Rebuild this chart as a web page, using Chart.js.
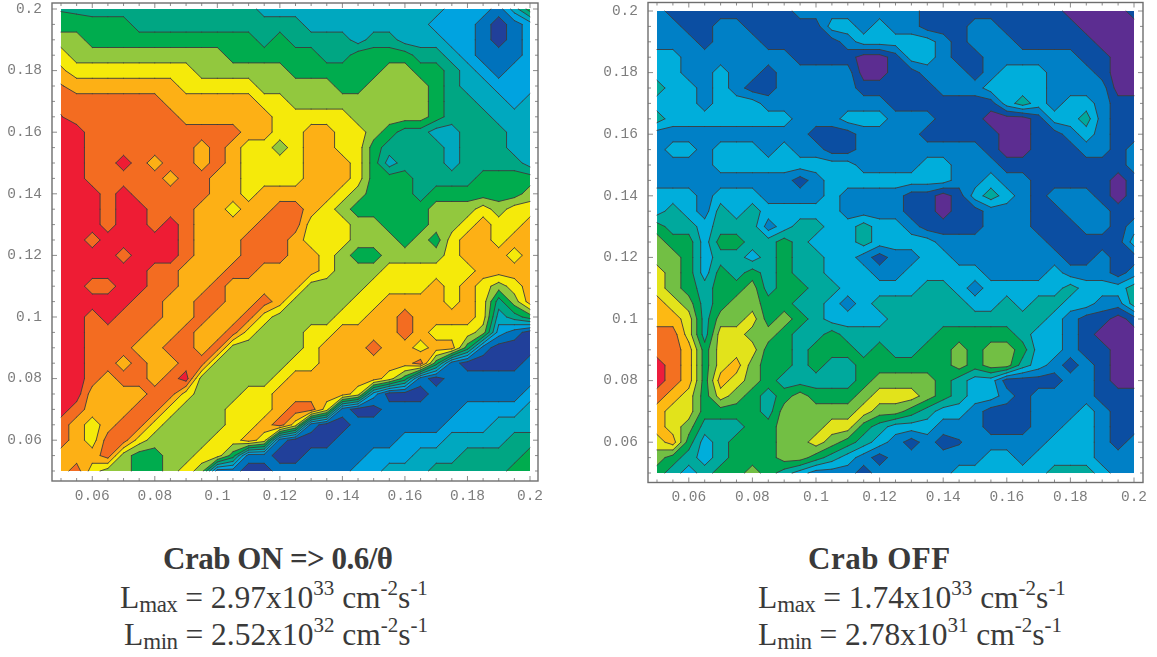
<!DOCTYPE html>
<html>
<head>
<meta charset="utf-8">
<title>Crab ON / OFF luminosity</title>
<script src="https://cdn.jsdelivr.net/npm/chart.js@4"></script>
<style>
  html, body { margin: 0; padding: 0; background: #fff; }
  body { position: relative; width: 1157px; height: 657px; overflow: hidden; }
  .plot { position: absolute; top: 0; height: 520px; }
  .cap { position: absolute; white-space: nowrap; font-family: "Liberation Serif", serif; color: #3a3a3a; line-height: 1; }
  .cap.head { font-weight: bold; font-size: 31px; }
  .cap.lum { font-size: 31.5px; }
  .cap sub { font-size: 23px; vertical-align: baseline; position: relative; top: 4px; line-height: 0; letter-spacing: -0.5px; }
  .cap sup { font-size: 21px; vertical-align: baseline; position: relative; top: -13px; line-height: 0; }
</style>
</head>
<body>
<canvas id="crabOn" class="plot" style="left:0" width="578" height="520"></canvas>
<canvas id="crabOff" class="plot" style="left:578px" width="579" height="520"></canvas>

<div class="cap head" style="left:163px;top:543px;letter-spacing:-0.5px">Crab ON =&gt; 0.6/θ</div>
<div class="cap lum" style="left:120px;top:582px">L<sub>max</sub> = 2.97x10<sup>33</sup> cm<sup>-2</sup>s<sup>-1</sup></div>
<div class="cap lum" style="left:124px;top:619px">L<sub>min</sub> = 2.52x10<sup>32</sup> cm<sup>-2</sup>s<sup>-1</sup></div>
<div class="cap head" style="left:808px;top:543px;letter-spacing:0.5px">Crab OFF</div>
<div class="cap lum" style="left:758px;top:582px">L<sub>max</sub> = 1.74x10<sup>33</sup> cm<sup>-2</sup>s<sup>-1</sup></div>
<div class="cap lum" style="left:758px;top:619px">L<sub>min</sub> = 2.78x10<sup>31</sup> cm<sup>-2</sup>s<sup>-1</sup></div>

<script>
// grid positions of the sampled luminosity map
const gridX = [0.05, 0.055, 0.06, 0.065, 0.07, 0.075, 0.08, 0.085, 0.09, 0.095, 0.1, 0.105, 0.11, 0.115, 0.12, 0.125,
  0.13, 0.135, 0.14, 0.145, 0.15, 0.155, 0.16, 0.165, 0.17, 0.175, 0.18, 0.185, 0.19, 0.195, 0.2];
const gridY = gridX.slice().reverse();

const tickValues = gridX;
const tickLabels = ['0.06', '0.08', '0.1', '0.12', '0.14', '0.16', '0.18', '0.2'];

// contour band of each grid node, rows run from y = 0.2 down to y = 0.05
const crabOnLevels = [
  [4.4,4.25,4,4,4,4,4,4,4,4,4,4,4,3,3,3,3,3,3,3,3,3,3,3,3,2,2,2,1,3,5],
  [5,5,5,5,5,4,4,4,4,4,4,4,4,4,4,4,3,3,3,3,3,3,3,3,2,2,2,1,0,1,2],
  [6,6,5,5,5,5,5,5,5,5,5,5,5,4,5,4,4,4,4,3,4,4,3,3,3,2,2,1,0,1,2],
  [7,6,6,6,6,6,6,6,6,6,6,5,5,5,5,5,5,4,4,5,5,5,5,4,4,3,2,1,1,1,2],
  [7.7,7,7,7,7,7,7,7,7,6,6,6,6,6,6,5,5,5,5,5,5,6,6,5,5,4,3,2,1,2,2],
  [8.6,8,8,8,8,8,8,8,7,7,7,7,7,6,6,6,6,6,5,5,6,6,6,6,5,4,3,3,2,2,2],
  [9.2,9,9,9,9,9,9,8,8,8,8,8,8,7,7,6,6,6,6,6,6,6,6,6,5,4,4,3,3,2,3],
  [9.55,9,9,9,9,9,9,9,8,8,8,8,8,8,7,7,7,7,7,6,6,6,6,6,5,4,4,4,3,3,3],
  [10,10,9,9,9,9,9,9,9,9,9,9,8,8,7,7,8,8,7,7,6,5,4,4,3,3,4,4,4,3,3],
  [10,10,9,9,9,9,9,9,9,8,9,8,7,7,6,7,8,8,7,7,5,4,4,4,4,3,4,4,4,3,3],
  [10,10,9,9,10,9,8,9,9,8,9,8,7,7,7,7,8,8,8,7,5,3,4,4,4,3,4,4,4,4,3],
  [10,10,9,9,9,9,9,8,9,9,8,8,7,7,7,7,8,8,8,7,5,5,5,4,4,4,4,5,5,5,5],
  [10,10,10,9,10,9,9,9,9,9,8,8,7,8,8,8,8,8,7,6,5,5,5,4,5,5,5,5,5,5,6],
  [10,10,10,9,10,10,9,9,9,8,8,7,8,8,9,9,8,7,6,5,5,5,5,5,6,6,6,7,6,7,7],
  [10,10,10,9,10,10,9,10,9,8,8,8,8,9,9,9,7,7,7,6,6,5,5,5,6,6,7,8,7,7,8],
  [10,10,9,10,10,10,10,10,9,8,8,8,9,9,9,8,7,7,7,6,6,6,5,6,5,7,8,8,7,8,8],
  [10,10,10,10,9,10,10,10,9,8,8,8,9,9,9,8,8,7,6,5,5,6,6,6,6,7,8,8,8,7,8],
  [10,10,10,10,10,10,9,9,8,8,8,9,9,8,8,8,8,7,6,6,6,7,7,7,7,7,7,8,8,8,8],
  [10,10,9,9,10,10,9,9,8,8,9,8,8,8,8,8,6,6,6,6,7,7,7,7,8,7,8,7,6,7,8],
  [10,10,10,10,10,9,9,8,8,9,9,8,8,9,8,6,6,6,6,7,7,8,8,8,8,7,8,7,4,6,8],
  [10,10,9,10,9,9,9,8,8,9,8,8,9,7,6,6,6,6,7,7,8,8,9,8,8,8,8,7,3,4,5],
  [10,10,9,9,9,9,8,8,9,8,8,9,7,6,6,6,7,7,8,8,8,8,9,8,7,7,7,6,2,1,0],
  [10,10,9,9,9,8,8,9,9,8,9,6,6,6,6,6,7,8,8,8,9,8,8,7,8,8,5,1,0,0,0],
  [10,10,9,9,8,9,8,8,9,9,6,6,6,6,6,7,7,8,8,8,8,8,8,9,5,1,0,0,0,0,1],
  [10,10,9,8,9,9,8,9,10,6,6,6,6,6,7,8,8,8,8,8,8,7,5,1,0,1,1,1,1,1,1],
  [10,10,8,8,8,8,9,9,7,6,6,6,7,7,8,8,8,8,8,7,2,0,0,0,1,1,1,1,1,1,2],
  [10,9,8,8,8,9,9,7,6,6,6,7,7,7,8,9,9,7,1,0,0,1,1,1,1,1,2,2,2,2,3],
  [9,8,7,8,9,9,7,6,6,6,6,7,7,8,9,7,1,0,0,1,1,1,1,1,1,2,2,2,3,3,3],
  [9,8,7,9,9,7,6,6,6,6,7,7,8,7,1,0,0,0,1,1,1,1,2,2,2,3,3,3,3,4,4],
  [8,8,8,9,6,5,5,6,6,7,7,5,1,1,0,0,1,1,1,1,2,2,2,3,3,3,4,4,4,4,5],
  [8,9,7,6,6,5,5,6,7,6,1,1,0,0,1,1,1,1,1,2,2,3,3,3,4,4,4,4,4,5,5]
];

const crabOffLevels = [
  [2,1,1,1,1,1,1,1,1,2,2,2,2,2,2,2,2,1,1,1,1,1,1,1,1,1,0,0,0,0,1],
  [2,2,1,1,2,2,1,1,1,1,1,3,3,2,3,2,2,1,1,1,2,2,1,1,1,1,1,0,0,0,0],
  [2,2,2,1,2,2,2,1,1,1,1,1,2,3,3,3,3,3,2,1,2,2,2,1,1,1,1,1,0,0,0],
  [3,3,2,2,2,2,2,2,2,1,1,1,1,0,0,1,3,3,2,1,1,2,2,2,2,2,2,1,1,0,0],
  [3,3,2,2,3,2,2,1,2,2,2,2,2,0,0,1,1,2,2,2,1,2,3,3,3,2,2,2,1,0,0],
  [4,3,3,2,3,2,1,1,2,2,2,2,2,1,1,1,1,1,2,2,2,3,3,3,3,2,2,2,2,0,0],
  [3,3,3,2,3,3,3,2,2,2,2,2,2,2,2,1,1,1,1,1,1,1,3,4,3,2,3,3,2,1,1],
  [4,3,3,3,3,3,3,3,3,2,2,2,3,3,3,2,2,2,1,1,1,0,0,0,1,3,3,4,2,1,1],
  [2,2,2,2,2,2,2,2,2,2,1,1,1,2,2,2,2,1,1,1,1,1,0,0,1,1,2,3,2,1,1],
  [2,3,3,2,3,3,3,2,3,2,2,1,1,2,2,2,2,2,2,2,2,1,0,0,1,1,1,2,2,1,2],
  [2,2,2,2,3,3,3,3,3,3,3,3,3,2,2,2,2,3,3,2,2,2,1,1,1,1,1,1,1,1,2],
  [2,2,2,2,2,2,2,2,2,1,2,3,3,3,3,3,3,3,3,2,2,3,2,2,1,1,1,1,1,0,1],
  [3,3,3,2,3,3,3,2,2,2,2,3,2,2,2,2,1,1,0,1,3,4,3,2,1,2,2,2,1,0,1],
  [3,4,3,2,4,3,4,3,3,3,3,3,2,2,2,2,1,1,0,1,1,2,2,2,1,1,2,2,2,1,1],
  [5,4,4,3,4,4,4,2,3,4,4,3,3,4,3,3,2,1,1,1,1,2,2,2,1,1,1,2,2,1,2],
  [6,5,5,3,5,5,4,4,5,4,3,3,3,4,3,3,3,3,2,2,2,2,2,2,2,1,1,1,1,1,3],
  [6,6,5,3,4,4,3,4,5,4,4,3,3,2,1,2,2,3,3,2,2,2,2,2,2,2,1,1,2,1,1],
  [7,6,5,3,5,4,5,4,5,4,4,3,3,3,2,2,3,3,3,3,3,2,2,2,2,3,2,2,2,1,2],
  [7,6,5,4,5,5,6,4,5,5,4,4,3,3,3,3,3,4,4,3,2,3,3,3,3,3,4,3,3,3,4],
  [8,7,6,4,5,6,6,5,5,4,4,3,2,3,4,4,4,4,4,4,3,3,4,3,4,4,3,3,2,2,4],
  [8,8,7,4,6,6,7,5,6,5,4,3,3,3,3,4,4,4,4,4,4,4,4,4,4,3,2,1,1,0,1],
  [9,9,7,4,7,7,6,6,5,4,4,5,4,4,4,4,4,4,5,5,5,5,5,4,3,3,2,1,0,0,0],
  [9,9,8,5,7,7,7,5,5,4,5,5,5,4,5,4,4,5,5,6,5,6,6,5,3,3,2,1,1,0,0],
  [10,9,8,5,7,8,6,5,5,4,5,4,4,5,5,5,5,5,5,6,5,6,6,4,3,2,1,2,1,0,0],
  [10,9,8,5,8,7,6,5,4,4,4,4,4,5,6,6,6,6,5,4,3,3,1,1,1,1,2,2,1,0,0],
  [9,8,7,5,7,6,5,4,5,6,5,5,5,6,7,7,7,6,5,4,3,3,2,1,2,2,2,2,1,1,1],
  [8,7,7,5,5,5,5,4,6,6,6,6,6,7,6,6,5,4,3,3,2,1,1,1,2,2,2,3,2,1,1],
  [8,7,6,4,4,4,5,5,6,6,6,7,7,5,4,3,3,3,2,2,2,1,1,1,2,2,3,3,2,1,1],
  [7,8,5,3,4,5,5,5,6,6,7,6,5,4,3,2,1,2,1,1.4,2,2,2,2,2,3,3,3,2,1,2],
  [6,5,4,3,4,5,5,5,6,6,5,4,3,2,1,2,2,2,2,2,2,3,3,2,3,3,3,3,2,2,2],
  [5,4,3,4,5,5,6,5,4,3,2,2,2,1,2,2,2,2,2,3,3,3,3,3,3,4,4,4,3,2,2]
];

const crabOnColors = ['#21409a', '#0072bc', '#00a3e0', '#00a8bf', '#00a683', '#00ac4e', '#92c83e', '#f5ea0a', '#fdb015', '#f36c21', '#ee1c34'];
const crabOffColors = ['#5c2d91', '#0b4ea2', '#0080c6', '#00aedb', '#00a99d', '#00a651', '#72bf44', '#e2e31b', '#fdb913', '#f37021', '#ed1c3c'];

// clip one grid cell against a threshold, crossing points are flagged
function clipCell(corners, t) {
  const out = [];
  corners.forEach((a, i) => {
    const b = corners[(i + 1) % 4];
    const aIn = a.z >= t;
    const bIn = b.z >= t;
    if (aIn) out.push({ x: a.x, y: a.y, cross: false });
    if (aIn !== bIn) {
      const f = (t - a.z) / (b.z - a.z);
      out.push({ x: a.x + (b.x - a.x) * f, y: a.y + (b.y - a.y) * f, cross: true });
    }
  });
  return out;
}

const contourPlugin = {
  id: 'contourBands',
  beforeDatasetsDraw(chart, args, opts) {
    const { ctx, scales: { x, y } } = chart;
    const nodes = chart.data.datasets[0].data;
    const nx = gridX.length;
    const ny = gridY.length;
    const pts = nodes.map(p => ({ x: x.getPixelForValue(p.x), y: y.getPixelForValue(p.y), z: p.z }));

    ctx.save();
    ctx.fillStyle = opts.colors[0];
    ctx.fillRect(pts[0].x, pts[0].y, pts[nx - 1].x - pts[0].x, pts[pts.length - 1].y - pts[0].y);

    for (let k = 1; k < opts.colors.length; k++) {
      const t = k - 0.5;
      const fill = new Path2D();
      const line = new Path2D();
      for (let j = 0; j < ny - 1; j++) {
        for (let i = 0; i < nx - 1; i++) {
          const n = j * nx + i;
          const poly = clipCell([pts[n], pts[n + 1], pts[n + nx + 1], pts[n + nx]], t);
          if (!poly.length) continue;
          poly.forEach((p, m) => {
            if (m === 0) fill.moveTo(p.x, p.y);
            else fill.lineTo(p.x, p.y);
            const q = poly[(m + 1) % poly.length];
            if (p.cross && q.cross) {
              line.moveTo(p.x, p.y);
              line.lineTo(q.x, q.y);
            }
          });
          fill.closePath();
        }
      }
      ctx.fillStyle = opts.colors[k];
      ctx.fill(fill);
      ctx.strokeStyle = '#3c3c3c';
      ctx.lineWidth = 0.9;
      ctx.lineCap = 'round';
      ctx.stroke(line);
    }
    ctx.restore();
  },
  afterDraw(chart) {
    // frame and inward ticks on all four sides
    const { ctx, chartArea: a, scales: { x, y } } = chart;
    ctx.save();
    ctx.strokeStyle = '#6e6e6e';
    ctx.lineWidth = 1.4;
    ctx.strokeRect(a.left, a.top, a.right - a.left, a.bottom - a.top);
    ctx.lineWidth = 0.8;
    ctx.beginPath();
    x.ticks.forEach(t => {
      const px = x.getPixelForValue(t.value);
      const len = t.label ? 5 : 3;
      ctx.moveTo(px, a.bottom); ctx.lineTo(px, a.bottom - len);
      ctx.moveTo(px, a.top); ctx.lineTo(px, a.top + len);
    });
    y.ticks.forEach(t => {
      const py = y.getPixelForValue(t.value);
      const len = t.label ? 5 : 3;
      ctx.moveTo(a.left, py); ctx.lineTo(a.left + len, py);
      ctx.moveTo(a.right, py); ctx.lineTo(a.right - len, py);
    });
    ctx.stroke();
    ctx.restore();
  }
};

function labelFor(value) {
  const found = tickLabels.find(l => Math.abs(parseFloat(l) - value) < 1e-6);
  return found || '';
}

function axis(min, max, pad, afterFit) {
  return {
    type: 'linear',
    min: min,
    max: max,
    border: { display: false },
    grid: { display: false, drawTicks: false },
    afterBuildTicks: scale => { scale.ticks = tickValues.map(v => ({ value: v })); },
    afterFit: afterFit,
    ticks: {
      autoSkip: false,
      maxRotation: 0,
      padding: pad,
      color: '#7d7d7d',
      font: { family: '"Liberation Mono", monospace', size: 14.5 },
      callback: labelFor
    }
  };
}

function fixBox(scale, key, size) {
  scale[key] = size;
  scale.paddingLeft = 0;
  scale.paddingRight = 0;
  scale.paddingTop = 0;
  scale.paddingBottom = 0;
}

function drawMap(id, levels, colors, xRange, yRange, box) {
  const nodes = [];
  gridY.forEach((yv, j) => gridX.forEach((xv, i) => nodes.push({ x: xv, y: yv, z: levels[j][i] })));

  new Chart(document.getElementById(id), {
    type: 'scatter',
    data: { datasets: [{ data: nodes, pointRadius: 0, pointHoverRadius: 0, showLine: false }] },
    options: {
      responsive: false,
      animation: false,
      events: [],
      layout: { padding: { top: box.top, right: box.right, left: 0, bottom: 0 } },
      plugins: {
        legend: { display: false },
        title: { display: false },
        tooltip: { enabled: false },
        contourBands: { colors: colors }
      },
      scales: {
        x: axis(xRange[0], xRange[1], 6, s => fixBox(s, 'height', box.bottom)),
        y: axis(yRange[0], yRange[1], 10, s => fixBox(s, 'width', box.left))
      }
    },
    plugins: [contourPlugin]
  });
}

drawMap('crabOn', crabOnLevels, crabOnColors, [0.04712, 0.20256], [0.04675, 0.20195],
  { left: 52, right: 40, top: 3, bottom: 39 });
drawMap('crabOff', crabOffLevels, crabOffColors, [0.04717, 0.20283], [0.04692, 0.20276],
  { left: 70, right: 14, top: 2.5, bottom: 37.5 });
</script>
</body>
</html>
